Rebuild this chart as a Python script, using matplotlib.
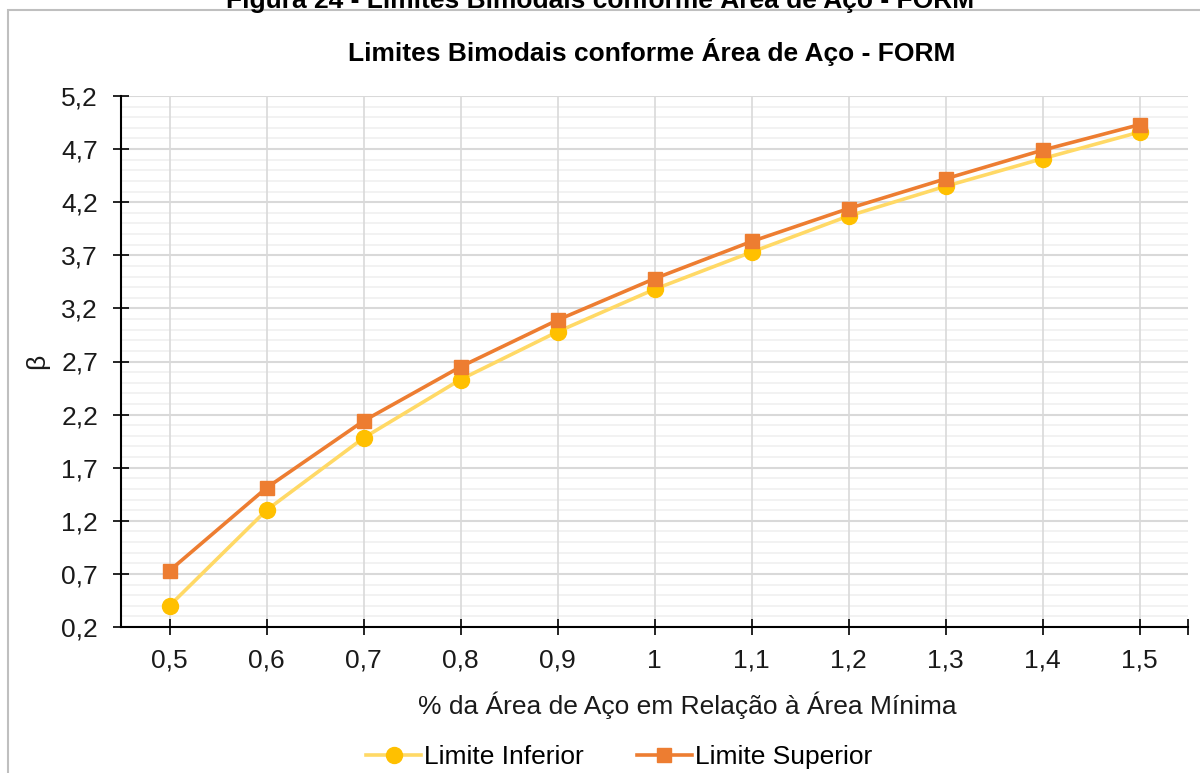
import matplotlib
matplotlib.use("Agg")
import matplotlib.pyplot as plt
from matplotlib.ticker import FixedLocator, FuncFormatter
from matplotlib.patches import Rectangle
from matplotlib.lines import Line2D

plt.rcParams['font.family'] = ['Liberation Sans', 'DejaVu Sans']

x_vals = [0.5, 0.6, 0.7, 0.8, 0.9, 1.0, 1.1, 1.2, 1.3, 1.4, 1.5]
limite_inferior = [0.40, 1.30, 1.98, 2.53, 2.98, 3.38, 3.73, 4.07, 4.35, 4.61, 4.86]
limite_superior = [0.73, 1.51, 2.14, 2.65, 3.09, 3.48, 3.83, 4.14, 4.42, 4.69, 4.93]
y_ticks = [0.2, 0.7, 1.2, 1.7, 2.2, 2.7, 3.2, 3.7, 4.2, 4.7, 5.2]

W, H = 1200, 773
FS = 19
fig = plt.figure(figsize=(12, 7.73), dpi=100)

def fx(px):
    return px / W

def fy(py):
    return 1 - py / H

# outer chart border
fig.patches.append(Rectangle((fx(8), fy(900)), fx(1300) - fx(8), fy(10) - fy(900),
                             transform=fig.transFigure, fill=False,
                             edgecolor='#BFBFBF', linewidth=1.5))

# clipped caption at top
fig.text(fx(600), fy(-1), "Figura 24 - Limites Bimodais conforme Área de Aço - FORM",
         ha='center', va='center', fontsize=FS, fontweight='bold', color='black')

left, right, top, bottom = 121, 1188, 96, 627
ax = fig.add_axes([fx(left), fy(bottom), fx(right) - fx(left), fy(top) - fy(bottom)])

ax.set_xlim(0.45, 1.55)
ax.set_ylim(0.2, 5.2)

# gridlines
for i in range(51):
    yv = 0.2 + 0.1 * i
    if i % 5 != 0:
        ax.axhline(yv, color='#F0F0F0', linewidth=1.2, zorder=0)
for yv in y_ticks:
    ax.axhline(yv, color='#D9D9D9', linewidth=1.5, zorder=0.5)
for xv in x_vals:
    ax.axvline(xv, color='#D9D9D9', linewidth=1.2, zorder=0.5)

ax.plot(x_vals, limite_inferior, color='#FFD966', linewidth=2.6,
        marker='o', markersize=11.5, markerfacecolor='#FFC000',
        markeredgecolor='#FFC000', zorder=3, label='Limite Inferior')
ax.plot(x_vals, limite_superior, color='#ED7D31', linewidth=2.6,
        marker='s', markersize=10.5, markerfacecolor='#ED7D31',
        markeredgecolor='#ED7D31', zorder=4, label='Limite Superior')

ax.set_yticks(y_ticks)
ax.xaxis.set_major_locator(FixedLocator(x_vals + [1.55]))
ax.xaxis.set_major_formatter(FuncFormatter(
    lambda v, p: '' if v > 1.52 else (('%g' % round(v, 2)).replace('.', ','))))
ax.yaxis.set_major_formatter(FuncFormatter(lambda v, p: ('%.1f' % v).replace('.', ',')))

ax.tick_params(axis='both', which='major', direction='inout', length=11, width=1.2,
               color='black', labelsize=FS, labelcolor='#1a1a1a')
ax.tick_params(axis='y', pad=11)
ax.tick_params(axis='x', pad=10)

for s in ['top', 'right']:
    ax.spines[s].set_visible(False)
for s in ['left', 'bottom']:
    ax.spines[s].set_color('black')
    ax.spines[s].set_linewidth(1.5)

fig.text(fx(652), fy(52), "Limites Bimodais conforme Área de Aço - FORM",
         ha='center', va='center', fontsize=FS, fontweight='bold', color='black')

fig.text(fx(687), fy(705), "% da Área de Aço em Relação à Área Mínima",
         ha='center', va='center', fontsize=FS, color='#1a1a1a')
fig.text(fx(37), fy(361), "β", rotation=90, ha='center', va='center',
         fontsize=FS, color='#1a1a1a')

handles = [Line2D([], [], color='#FFD966', linewidth=2.6, marker='o', markersize=11.5,
                  markerfacecolor='#FFC000', markeredgecolor='#FFC000'),
           Line2D([], [], color='#ED7D31', linewidth=2.6, marker='s', markersize=10.5,
                  markerfacecolor='#ED7D31', markeredgecolor='#ED7D31')]
fig.legend(handles, ['Limite Inferior', 'Limite Superior'], loc='center',
           bbox_to_anchor=(fx(619), fy(757)), ncol=2, frameon=False, fontsize=FS,
           handlelength=2.1, handletextpad=0.1, columnspacing=2.0)

fig.savefig("out.png", dpi=100)
